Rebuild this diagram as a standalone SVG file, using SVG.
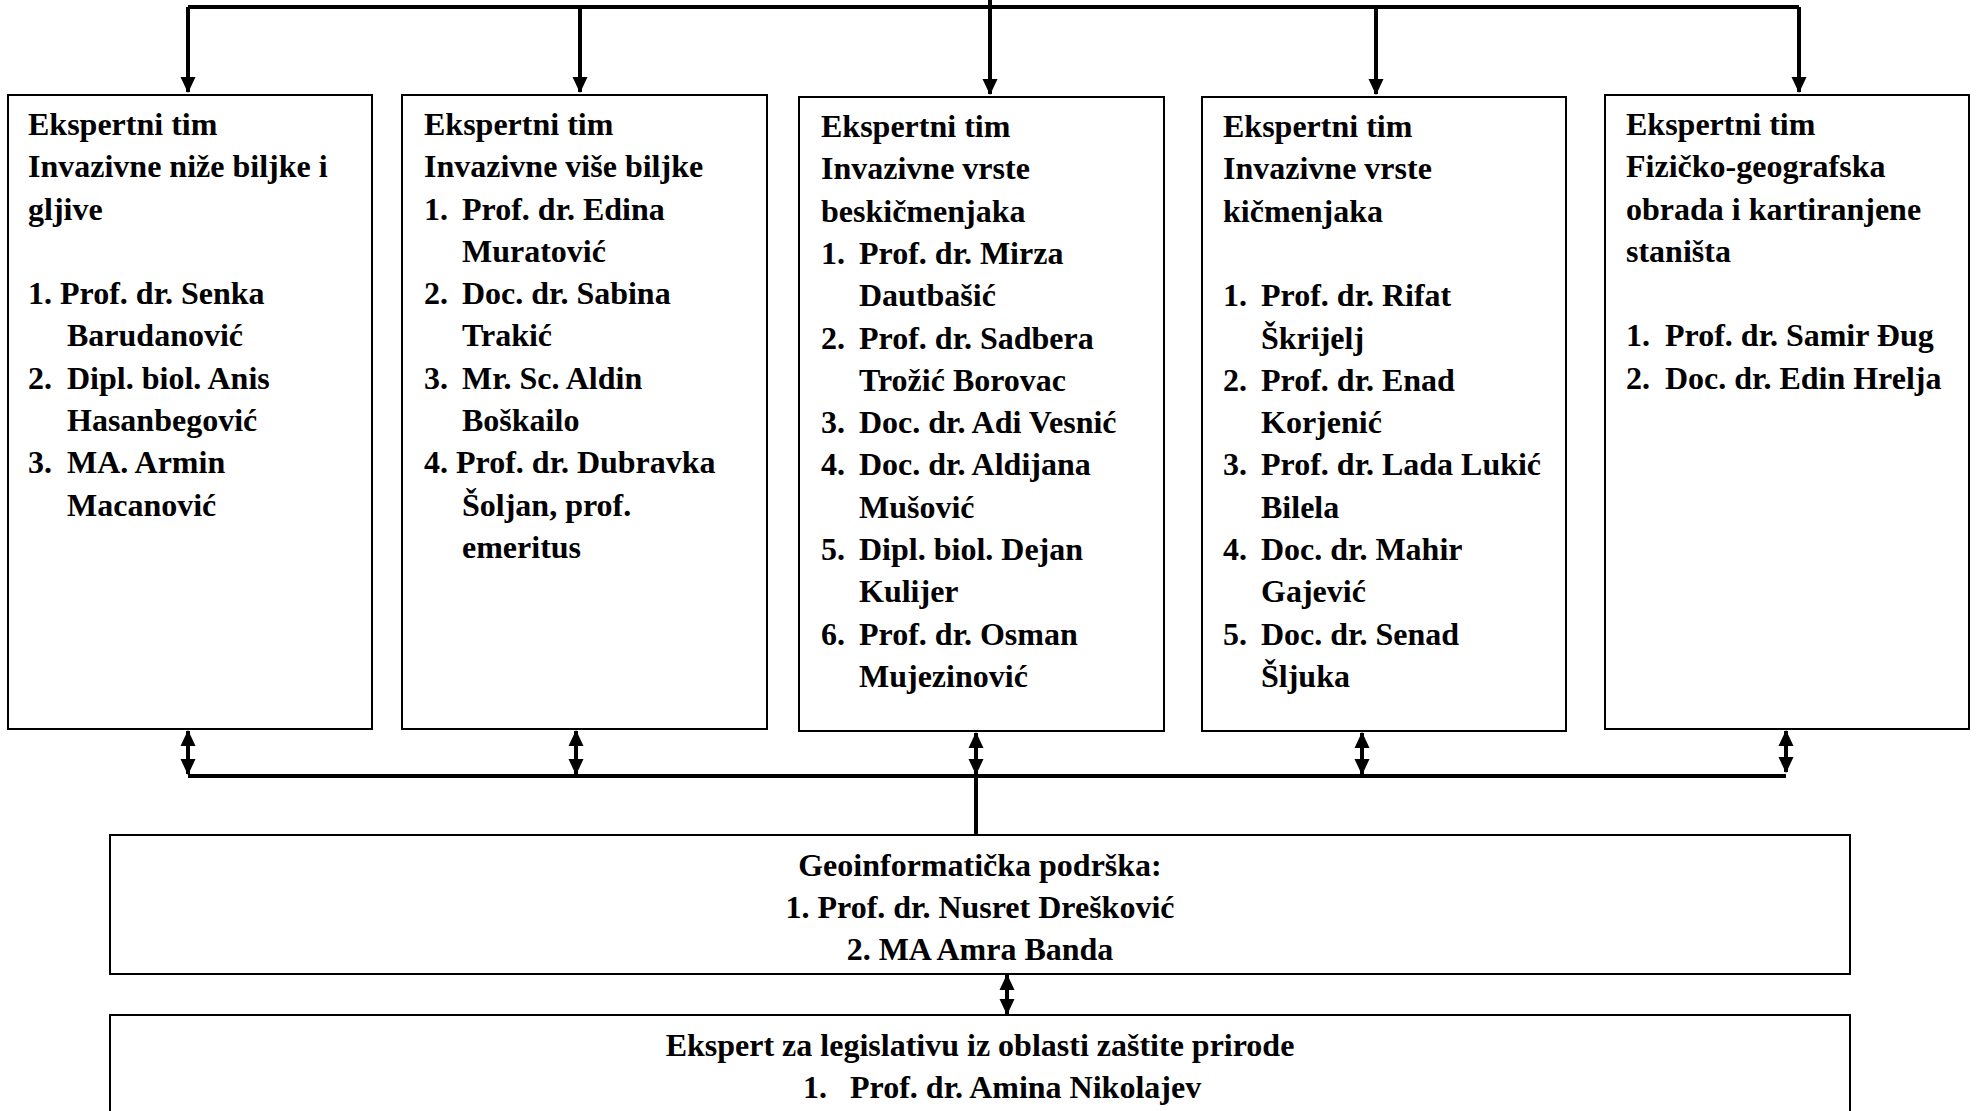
<svg xmlns="http://www.w3.org/2000/svg" width="1977" height="1111" viewBox="0 0 1977 1111">
<style>
.box{fill:#fff;stroke:#000;stroke-width:2}
.t{font-family:"Liberation Serif","Times New Roman",serif;font-weight:bold;font-size:32px;fill:#000}
.c{text-anchor:middle}
.ln{stroke:#000;stroke-width:4;fill:none}
.bus{stroke:#000;stroke-width:4;fill:none}
</style>
<defs>
<marker id="ah" viewBox="0 0 16 16" refX="15" refY="8" markerWidth="16" markerHeight="16" markerUnits="userSpaceOnUse" orient="auto-start-reverse">
<path d="M0,0.5 L16,8 L0,15.5 z" fill="#000"/>
</marker>
</defs>
<rect width="1977" height="1111" fill="#fff"/>

<g id="connectors">
<line class="bus" x1="188" y1="7" x2="1799" y2="7"/>
<line class="ln" x1="990" y1="0" x2="990" y2="94" marker-end="url(#ah)"/>
<line class="ln" x1="188" y1="7" x2="188" y2="92" marker-end="url(#ah)"/>
<line class="ln" x1="580" y1="7" x2="580" y2="92" marker-end="url(#ah)"/>
<line class="ln" x1="1376" y1="7" x2="1376" y2="94" marker-end="url(#ah)"/>
<line class="ln" x1="1799" y1="7" x2="1799" y2="92" marker-end="url(#ah)"/>
<line class="bus" x1="188" y1="776" x2="1786" y2="776"/>
<line class="ln" x1="188" y1="731" x2="188" y2="774" marker-start="url(#ah)" marker-end="url(#ah)"/>
<line class="ln" x1="576" y1="731" x2="576" y2="774" marker-start="url(#ah)" marker-end="url(#ah)"/>
<line class="ln" x1="976" y1="733" x2="976" y2="774" marker-start="url(#ah)" marker-end="url(#ah)"/>
<line class="ln" x1="1362" y1="733" x2="1362" y2="774" marker-start="url(#ah)" marker-end="url(#ah)"/>
<line class="ln" x1="1786" y1="731" x2="1786" y2="772" marker-start="url(#ah)" marker-end="url(#ah)"/>
<line class="ln" x1="976" y1="776" x2="976" y2="835"/>
<line class="ln" x1="1007" y1="975" x2="1007" y2="1014" marker-start="url(#ah)" marker-end="url(#ah)"/>
</g>

<g id="team1">
<rect class="box" x="8" y="95" width="364" height="634"/>
<text class="t" x="28" y="135">Ekspertni tim</text>
<text class="t" x="28" y="177">Invazivne niže biljke i</text>
<text class="t" x="28" y="220">gljive</text>
<text class="t" x="28" y="304">1. Prof. dr. Senka</text>
<text class="t" x="67" y="346">Barudanović</text>
<text class="t" y="389"><tspan x="28">2.</tspan><tspan x="67">Dipl. biol. Anis</tspan></text>
<text class="t" x="67" y="431">Hasanbegović</text>
<text class="t" y="473"><tspan x="28">3.</tspan><tspan x="67">MA. Armin</tspan></text>
<text class="t" x="67" y="516">Macanović</text>
</g>

<g id="team2">
<rect class="box" x="402" y="95" width="365" height="634"/>
<text class="t" x="424" y="135">Ekspertni tim</text>
<text class="t" x="424" y="177">Invazivne više biljke</text>
<text class="t" y="220"><tspan x="424">1.</tspan><tspan x="462">Prof. dr. Edina</tspan></text>
<text class="t" x="462" y="262">Muratović</text>
<text class="t" y="304"><tspan x="424">2.</tspan><tspan x="462">Doc. dr. Sabina</tspan></text>
<text class="t" x="462" y="346">Trakić</text>
<text class="t" y="389"><tspan x="424">3.</tspan><tspan x="462">Mr. Sc. Aldin</tspan></text>
<text class="t" x="462" y="431">Boškailo</text>
<text class="t" x="424" y="473">4. Prof. dr. Dubravka</text>
<text class="t" x="462" y="516">Šoljan, prof.</text>
<text class="t" x="462" y="558">emeritus</text>
</g>

<g id="team3">
<rect class="box" x="799" y="97" width="365" height="634"/>
<text class="t" x="821" y="137">Ekspertni tim</text>
<text class="t" x="821" y="179">Invazivne vrste</text>
<text class="t" x="821" y="222">beskičmenjaka</text>
<text class="t" y="264"><tspan x="821">1.</tspan><tspan x="859">Prof. dr. Mirza</tspan></text>
<text class="t" x="859" y="306">Dautbašić</text>
<text class="t" y="349"><tspan x="821">2.</tspan><tspan x="859">Prof. dr. Sadbera</tspan></text>
<text class="t" x="859" y="391">Trožić Borovac</text>
<text class="t" y="433"><tspan x="821">3.</tspan><tspan x="859">Doc. dr. Adi Vesnić</tspan></text>
<text class="t" y="475"><tspan x="821">4.</tspan><tspan x="859">Doc. dr. Aldijana</tspan></text>
<text class="t" x="859" y="518">Mušović</text>
<text class="t" y="560"><tspan x="821">5.</tspan><tspan x="859">Dipl. biol. Dejan</tspan></text>
<text class="t" x="859" y="602">Kulijer</text>
<text class="t" y="645"><tspan x="821">6.</tspan><tspan x="859">Prof. dr. Osman</tspan></text>
<text class="t" x="859" y="687">Mujezinović</text>
</g>

<g id="team4">
<rect class="box" x="1202" y="97" width="364" height="634"/>
<text class="t" x="1223" y="137">Ekspertni tim</text>
<text class="t" x="1223" y="179">Invazivne vrste</text>
<text class="t" x="1223" y="222">kičmenjaka</text>
<text class="t" y="306"><tspan x="1223">1.</tspan><tspan x="1261">Prof. dr. Rifat</tspan></text>
<text class="t" x="1261" y="349">Škrijelj</text>
<text class="t" y="391"><tspan x="1223">2.</tspan><tspan x="1261">Prof. dr. Enad</tspan></text>
<text class="t" x="1261" y="433">Korjenić</text>
<text class="t" y="475"><tspan x="1223">3.</tspan><tspan x="1261">Prof. dr. Lada Lukić</tspan></text>
<text class="t" x="1261" y="518">Bilela</text>
<text class="t" y="560"><tspan x="1223">4.</tspan><tspan x="1261">Doc. dr. Mahir</tspan></text>
<text class="t" x="1261" y="602">Gajević</text>
<text class="t" y="645"><tspan x="1223">5.</tspan><tspan x="1261">Doc. dr. Senad</tspan></text>
<text class="t" x="1261" y="687">Šljuka</text>
</g>

<g id="team5">
<rect class="box" x="1605" y="95" width="364" height="634"/>
<text class="t" x="1626" y="135">Ekspertni tim</text>
<text class="t" x="1626" y="177">Fizičko-geografska</text>
<text class="t" x="1626" y="220">obrada i kartiranjene</text>
<text class="t" x="1626" y="262">staništa</text>
<text class="t" y="346"><tspan x="1626">1.</tspan><tspan x="1665">Prof. dr. Samir Đug</tspan></text>
<text class="t" y="389"><tspan x="1626">2.</tspan><tspan x="1665">Doc. dr. Edin Hrelja</tspan></text>
</g>

<g id="geo">
<rect class="box" x="110" y="835" width="1740" height="139"/>
<text class="t c" x="980" y="876">Geoinformatička podrška:</text>
<text class="t c" x="980" y="918">1. Prof. dr. Nusret Drešković</text>
<text class="t c" x="980" y="960">2. MA Amra Banda</text>
</g>

<g id="legislativa">
<rect class="box" x="110" y="1015" width="1740" height="120"/>
<text class="t c" x="980" y="1056">Ekspert za legislativu iz oblasti zaštite prirode</text>
<text class="t" y="1098"><tspan x="803">1.</tspan><tspan x="850">Prof. dr. Amina Nikolajev</tspan></text>
</g>
</svg>
